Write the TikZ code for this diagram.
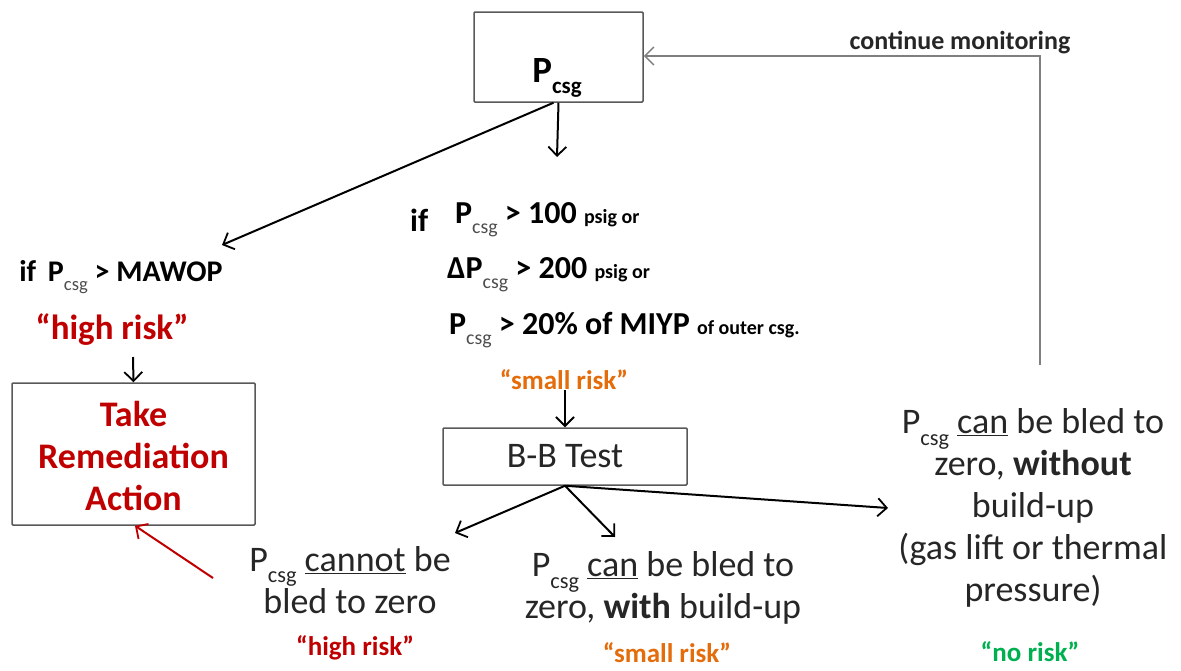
\documentclass[tikz,border=0pt]{standalone}
\usepackage{fontspec}
\setmainfont{Carlito}
\usepackage{graphicx}
\usetikzlibrary{arrows.meta}
\definecolor{riskred}{HTML}{C00000}
\definecolor{riskorange}{HTML}{E46C0A}
\definecolor{riskgreen}{HTML}{00B050}
\definecolor{ink}{HTML}{262626}
\definecolor{framegray}{HTML}{595959}
\definecolor{loopgray}{HTML}{7F7F7F}
\definecolor{subgray}{HTML}{4D4D4D}
% lowered, reduced subscript used for P_csg
\newcommand\lowsub[1]{\raisebox{-0.32em}{\scalebox{0.62}{#1}}}
\newcommand\Pc{P\lowsub{csg}}
% subscript set in regular weight inside bold lines
\newcommand\Pcl{P\lowsub{\mdseries\color{subgray}csg}}
\newcommand\smalltxt[1]{{\fontsize{20}{24}\selectfont #1}}

\begin{document}
\begin{tikzpicture}[x=1pt,y=-1pt,
  box/.style={draw=framegray, line width=1.5pt, rounded corners=1pt, inner sep=0pt, fill=white},
  tip/.style={-{Straight Barb[length=9pt,width=18pt,line width=1.8pt]}},
  flow/.style={tip, line width=2pt, black},
  txt/.style={inner sep=0pt, text=ink, align=center, font=\fontsize{36}{42}\selectfont},
  cond/.style={inner sep=0pt, text=black, anchor=west, font=\bfseries\fontsize{32}{36}\selectfont},
  tag/.style={inner sep=0pt, font=\bfseries\fontsize{27}{30}\selectfont}]
\useasboundingbox (0,0) rectangle (1181,670);

% monitoring box
\node[box, minimum width=169pt, minimum height=90pt] (top) at (558.5,57) {};
\node[inner sep=0pt, font=\bfseries\fontsize{37}{40}\selectfont] (pcsg) at (557,78) {\Pc};

% branch: MAWOP exceeded
\coordinate (leftend) at (222,245);
\draw[flow] ([xshift=-5pt]top.south) -- (leftend);
\node[cond, anchor=center, font=\bfseries\fontsize{30}{34}\selectfont] (mawop) at (121,277) {if\, \Pcl\ > MAWOP};
\node[inner sep=0pt, text=riskred, font=\bfseries\fontsize{35}{40}\selectfont] (hr1) at (112,330) {“high risk”};
\node[box, minimum width=243pt, minimum height=142pt] (remed) at (133.5,454) {};
\node[inner sep=0pt, text=riskred, align=center, font=\bfseries\fontsize{36}{42}\selectfont] (remtxt) at (133.5,456) {Take\\Remediation\\Action};
\coordinate (hrtip) at (133,357);
\draw[flow] (hrtip) -- (remed.north);

% branch: threshold conditions
\coordinate (downend) at (557,157);
\draw[flow] (top.south) -- (downend);
\node[cond] (ifw) at (410,220) {if};
\node[cond] (c1) at (455,220) {\Pcl\ > 100 \smalltxt{psig or}};
\node[cond] (c2) at (447,275) {Δ\Pcl\ > 200 \smalltxt{psig or}};
\node[cond] (c3) at (449,330) {\Pcl\ > 20\% of MIYP \smalltxt{of outer csg.}};
\node[tag, text=riskorange] (sr1) at (564,380) {“small risk”};

% bleed-back test
\node[box, minimum width=244pt, minimum height=57pt, font=\fontsize{36}{40}\selectfont, text=ink] (bb) at (565,456.5) {B-B Test};
\draw[flow] (sr1.south -| bb.north) -- (bb.north);

% outcomes
\node[txt] (out1) at (350,580) {\Pc\ \underline{cannot} be\\bled to zero};
\node[tag, text=riskred] (hr2) at (355,648) {“high risk”};
\node[txt] (out2) at (663,588) {\Pc\ \underline{can} be bled to\\zero, \textbf{with} build-up};
\node[tag, text=riskorange] (sr2) at (667,653) {“small risk”};
\node[txt] (out3) at (1033,508) {\Pc\ \underline{can} be bled to\\zero, \textbf{without}\\build-up\\(gas lift or thermal\\pressure)};
\node[tag, text=riskgreen] (nr) at (1030,652) {“no risk”};

\coordinate (a1) at (455,533);
\coordinate (a2) at (615,537);
\coordinate (a3) at (888,508);
\draw[flow] (bb.south) -- (a1);
\draw[flow] (bb.south) -- (a2);
\draw[flow] (bb.south) -- (a3);

% cannot be bled: back to remediation
\coordinate (redstart) at (213,578);
\draw[tip, line width=2pt, riskred] (redstart) -- ([xshift=1.5pt]remed.south);

% continue monitoring loop
\coordinate (loopstart) at (1040,365);
\draw[-{Straight Barb[length=9pt,width=18pt,line width=1.5pt]}, line width=1.6pt, loopgray] (loopstart) |- ([yshift=1pt]top.east);
\node[inner sep=0pt, font=\bfseries\fontsize{26}{30}\selectfont, text=ink] (cm) at (960,43) {continue monitoring};
\end{tikzpicture}
\end{document}
